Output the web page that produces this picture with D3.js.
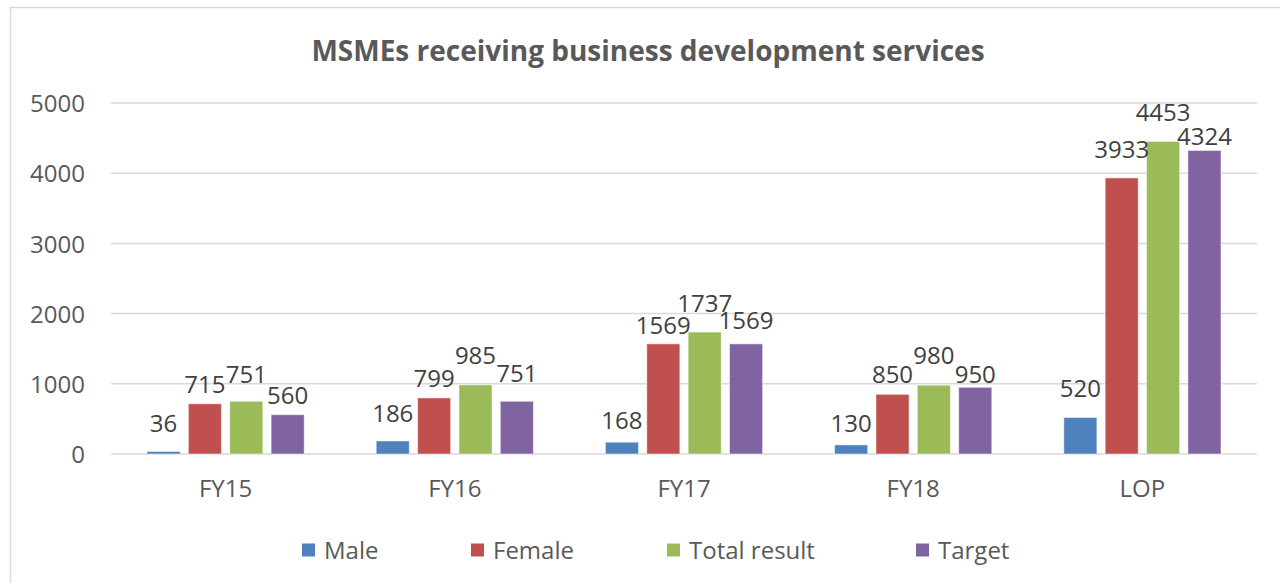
<!DOCTYPE html>
<html>
<head>
<meta charset="utf-8">
<script src="https://cdn.jsdelivr.net/npm/d3@7"></script>
<style>
  body { margin: 0; background: #fff; }
  svg { display: block; font-family: "Open Sans", "Noto Sans", sans-serif; }
</style>
</head>
<body>
<svg id="chart" width="1280" height="583"></svg>
<script>
// data
const categories = ['FY15', 'FY16', 'FY17', 'FY18', 'LOP'];
const seriesNames = ['Male', 'Female', 'Total result', 'Target'];
const male = [36, 186, 168, 130, 520];
const female = [715, 799, 1569, 850, 3933];
const total = [751, 985, 1737, 980, 4453];
const target = [560, 751, 1569, 950, 4324];
const yTicks = [0, 1000, 2000, 3000, 4000, 5000];
const colors = ['#4f81bd', '#c0504d', '#9bbb59', '#8064a2'];

const seriesValues = [male, female, total, target];

// label gap above each bar (px), per category then series - some labels sit lower in the original
const labelGap = [
  [19, 11, 18, 11],
  [19, 11, 21, 19],
  [13, 10, 20, 15],
  [13, 11, 21, 4],
  [20, 20, 20, 5]
];

const svg = d3.select('#chart');
const width = 1280, height = 583;
const margin = {left: 111, right: 23, top: 103, bottom: 129};
const font = '"Open Sans", sans-serif';

// chart frame
svg.append('rect')
  .attr('x', 10.5).attr('y', 7.5)
  .attr('width', 1300).attr('height', 600)
  .attr('fill', '#fff')
  .attr('stroke', '#d9d9d9')
  .attr('stroke-width', 1.5);

const x0 = d3.scaleBand()
  .domain(categories)
  .range([margin.left, width - margin.right]);

const x1 = d3.scaleBand()
  .domain(seriesNames)
  .range([36, x0.bandwidth() - 36])
  .paddingInner(0.2);

const y = d3.scaleLinear()
  .domain([0, 5000])
  .range([height - margin.bottom, margin.top]);

// gridlines
svg.append('g')
  .selectAll('line')
  .data(yTicks)
  .join('line')
    .attr('x1', margin.left).attr('x2', width - margin.right)
    .attr('y1', d => y(d)).attr('y2', d => y(d))
    .attr('stroke', '#d9d9d9')
    .attr('stroke-width', 1.5);

// y axis labels
const yAxis = d3.axisLeft(y).tickValues(yTicks).tickFormat(d3.format('d')).tickSize(0).tickPadding(0);
svg.append('g')
  .attr('transform', `translate(85,0)`)
  .call(yAxis)
  .call(g => g.select('.domain').remove())
  .call(g => g.selectAll('text')
    .attr('fill', '#595959')
    .attr('dy', '0.36em')
    .style('font-size', '24px')
    .style('font-family', font));

// x axis labels
const xAxis = d3.axisBottom(x0).tickSize(0).tickPadding(0);
svg.append('g')
  .attr('transform', `translate(0,${y(0)})`)
  .call(xAxis)
  .call(g => g.select('.domain').remove())
  .call(g => g.selectAll('text')
    .attr('fill', '#595959')
    .attr('dy', null)
    .attr('y', 43)
    .style('font-size', '24px')
    .style('font-family', font));

// bars
const rows = [];
categories.forEach((c, i) => {
  seriesNames.forEach((s, j) => {
    rows.push({cat: c, series: s, value: seriesValues[j][i], color: colors[j], gap: labelGap[i][j]});
  });
});

svg.append('g')
  .selectAll('rect')
  .data(rows)
  .join('rect')
    .attr('x', d => x0(d.cat) + x1(d.series))
    .attr('y', d => y(d.value))
    .attr('width', x1.bandwidth())
    .attr('height', d => y(0) - y(d.value))
    .attr('fill', d => d.color)
    .attr('stroke', '#fff')
    .attr('stroke-opacity', 0.5)
    .attr('stroke-width', 1);

// data labels
svg.append('g')
  .selectAll('text')
  .data(rows)
  .join('text')
    .attr('x', d => x0(d.cat) + x1(d.series) + x1.bandwidth() / 2)
    .attr('y', d => y(d.value) - d.gap)
    .attr('text-anchor', 'middle')
    .attr('fill', '#404040')
    .style('font-size', '24px')
    .text(d => d.value);

// title
svg.append('text')
  .attr('x', 648)
  .attr('y', 61)
  .attr('text-anchor', 'middle')
  .attr('fill', '#595959')
  .style('font-size', '28px')
  .style('font-weight', 'bold')
  .text('MSMEs receiving business development services');

// legend
const legendX = [302, 471, 667, 916];
const items = svg.append('g')
  .selectAll('g')
  .data(seriesNames)
  .join('g')
    .attr('transform', (d, i) => `translate(${legendX[i]},550)`);
items.append('rect')
  .attr('width', 13).attr('height', 13)
  .attr('y', -6.5)
  .attr('fill', (d, i) => colors[i]);
items.append('text')
  .attr('x', 22)
  .attr('dy', '0.36em')
  .attr('fill', '#595959')
  .style('font-size', '24px')
  .text(d => d);
</script>
</body>
</html>
